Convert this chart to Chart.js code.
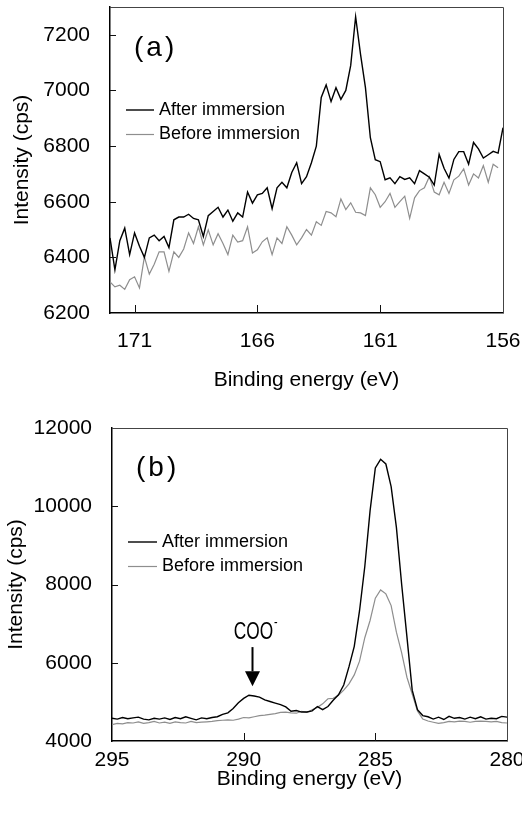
<!DOCTYPE html>
<html>
<head>
<meta charset="utf-8">
<script src="https://cdn.jsdelivr.net/npm/chart.js@4.4.1/dist/chart.umd.min.js"></script>
<style>
  html, body { margin: 0; padding: 0; background: #fff; }
  canvas { display: block; }
</style>
</head>
<body>
<canvas id="chart-a" width="522" height="400"></canvas>
<canvas id="chart-b" width="522" height="415"></canvas>
<script>
// ---- (a) S 2p region ----
const energyA = [172,171.8,171.6,171.4,171.2,171,170.8,170.6,170.4,170.2,170,169.8,169.6,169.4,169.2,169,168.8,168.6,168.4,168.2,
  168,167.8,167.6,167.4,167.2,167,166.8,166.6,166.4,166.2,166,165.8,165.6,165.4,165.2,165,164.8,164.6,164.4,164.2,
  164,163.8,163.6,163.4,163.2,163,162.8,162.6,162.4,162.2,162,161.8,161.6,161.4,161.2,161,160.8,160.6,160.4,160.2,
  160,159.8,159.6,159.4,159.2,159,158.8,158.6,158.4,158.2,158,157.8,157.6,157.4,157.2,157,156.8,156.6,156.4,156.2,156];
const afterA = [6470,6355,6460,6505,6410,6488,6440,6400,6470,6480,
  6460,6475,6435,6535,6545,6545,6555,6540,6535,6475,
  6550,6565,6580,6545,6570,6530,6560,6545,6635,6595,
  6625,6630,6650,6575,6650,6670,6650,6705,6740,6665,
  6690,6740,6800,6975,7020,6960,7010,6968,7000,7090,
  7265,7130,7010,6830,6751,6744,6679,6686,6665,6690,
  6680,6686,6665,6712,6700,6688,6660,6770,6720,6685,
  6752,6780,6780,6735,6813,6790,6757,6769,6781,6775,6866];
const beforeA = [6312,6294,6300,6285,6320,6330,6290,6402,6340,6375,
  6420,6420,6350,6420,6400,6430,6488,6450,6510,6445,
  6499,6445,6485,6450,6410,6480,6455,6460,6510,6416,
  6427,6456,6470,6410,6470,6450,6510,6480,6445,6470,
  6500,6480,6528,6515,6565,6560,6546,6610,6572,6596,
  6562,6560,6550,6650,6625,6580,6600,6630,6580,6600,
  6620,6540,6614,6640,6650,6690,6635,6625,6670,6630,
  6679,6692,6718,6660,6700,6685,6730,6670,6735,6722,null];
const xTicksA = [171, 166, 161, 156];
const yTicksA = [6200, 6400, 6600, 6800, 7000, 7200];

// ---- (b) C 1s region ----
const energyB = [295,294.8,294.6,294.4,294.2,294,293.8,293.6,293.4,293.2,293,292.8,292.6,292.4,292.2,292,291.8,291.6,291.4,291.2,
  291,290.8,290.6,290.4,290.2,290,289.8,289.6,289.4,289.2,289,288.8,288.6,288.4,288.2,288,287.8,287.6,287.4,287.2,
  287,286.8,286.6,286.4,286.2,286,285.8,285.6,285.4,285.2,285,284.8,284.6,284.4,284.2,284,283.8,283.6,283.4,283.2,
  283,282.8,282.6,282.4,282.2,282,281.8,281.6,281.4,281.2,281,280.8,280.6,280.4,280.2,280];
const afterB = [4580,4560,4600,4570,4590,4610,4560,4540,4580,4560,
  4590,4550,4600,4570,4620,4580,4540,4590,4570,4600,
  4620,4680,4720,4830,4980,5090,5170,5150,5120,5050,
  5010,4970,4930,4870,4760,4780,4740,4740,4770,4880,
  4800,4880,5041,5180,5430,5900,6420,7330,8460,9880,
  10980,11200,11080,10500,9460,8000,6660,5300,4800,4650,
  4620,4560,4610,4550,4630,4580,4600,4560,4610,4570,
  4620,4560,4580,4570,4630,4610];
const beforeB = [4420,4450,4440,4470,4460,4490,4450,4470,4500,4460,
  4480,4450,4490,4470,4460,4500,4470,4480,4490,4500,
  4520,4530,4540,4530,4560,4600,4590,4620,4650,4660,
  4680,4700,4730,4740,4720,4710,4760,4730,4800,4860,
  4950,5080,5090,5170,5300,5460,5690,6040,6640,7080,
  7650,7860,7760,7460,6780,6250,5630,5200,4770,4560,
  4510,4480,4450,4470,4500,4490,4510,4500,4480,4500,
  4510,4500,4490,4500,4470,4460];
const xTicksB = [295, 290, 285, 280];
const yTicksB = [4000, 6000, 8000, 10000, 12000];

const seriesLabels = ['After immersion', 'Before immersion'];
const seriesColors = ['#000000', '#8e8e8e'];

const FONT = "'Liberation Sans', Arial, sans-serif";

// frame, inward ticks, legend and panel labels
const decorPlugin = {
    id: 'decor',
    afterDraw(chart, args, o) {
        const { ctx, chartArea: a, scales: { x, y } } = chart;
        ctx.save();

        // top and right edges of the box
        ctx.strokeStyle = '#444';
        ctx.lineWidth = 1;
        ctx.beginPath();
        ctx.moveTo(a.left, a.top + 0.5);
        ctx.lineTo(a.right + 0.5, a.top + 0.5);
        ctx.lineTo(a.right + 0.5, a.bottom);
        ctx.stroke();

        // inward tick marks
        ctx.strokeStyle = '#111';
        ctx.beginPath();
        x.ticks.forEach(t => {
            if (t.value === x.min || t.value === x.max) return;
            const px = Math.round(x.getPixelForValue(t.value)) + 0.5;
            ctx.moveTo(px, a.bottom);
            ctx.lineTo(px, a.bottom - 8);
        });
        y.ticks.forEach(t => {
            if (t.value === y.min || t.value === y.max) return;
            const py = Math.round(y.getPixelForValue(t.value)) + 0.5;
            ctx.moveTo(a.left, py);
            ctx.lineTo(a.left + 6, py);
        });
        ctx.stroke();

        // legend
        ctx.font = '18px ' + FONT;
        ctx.textBaseline = 'middle';
        ctx.textAlign = 'left';
        chart.data.datasets.forEach((ds, i) => {
            const ly = a.top + o.legendTop + i * 24.5;
            ctx.strokeStyle = ds.borderColor;
            ctx.lineWidth = ds.borderWidth;
            ctx.beginPath();
            ctx.moveTo(a.left + 16, ly);
            ctx.lineTo(a.left + o.legendLine, ly);
            ctx.stroke();
            ctx.fillStyle = '#000';
            ctx.fillText(ds.label, a.left + o.legendLine + 5, ly);
        });

        // panel label
        ctx.font = '28px ' + FONT;
        ctx.letterSpacing = '3px';
        ctx.fillStyle = '#000';
        ctx.fillText(o.panel, a.left + 24, a.top + o.panelTop);
        ctx.letterSpacing = '0px';

        // COO- arrow
        if (o.arrow) {
            const ar = o.arrow;
            const ax = Math.round(x.getPixelForValue(ar.x)) + 0.5;
            const yTop = y.getPixelForValue(ar.top);
            const yBase = y.getPixelForValue(ar.base);
            const yTip = y.getPixelForValue(ar.tip);
            ctx.strokeStyle = '#000';
            ctx.lineWidth = 2;
            ctx.beginPath();
            ctx.moveTo(ax, yTop);
            ctx.lineTo(ax, yBase);
            ctx.stroke();
            ctx.beginPath();
            ctx.moveTo(ax - 7.5, yBase);
            ctx.lineTo(ax + 7.5, yBase);
            ctx.lineTo(ax, yTip);
            ctx.closePath();
            ctx.fill();

            // condensed lettering, squeezed horizontally
            const yText = y.getPixelForValue(ar.text);
            ctx.save();
            ctx.translate(ax + 1, yText);
            ctx.scale(0.72, 1);
            ctx.font = '24px ' + FONT;
            ctx.textAlign = 'center';
            ctx.textBaseline = 'alphabetic';
            ctx.fillText(ar.label, 0, 0);
            const w = ctx.measureText(ar.label).width;
            ctx.font = '15px ' + FONT;
            ctx.textAlign = 'left';
            ctx.fillText('-', w / 2 + 1, -12);
            ctx.restore();
        }
        ctx.restore();
    }
};

function buildChart(id, cfg) {
    const datasets = [cfg.after, cfg.before].map((vals, i) => ({
        label: seriesLabels[i],
        data: cfg.energy.map((e, k) => ({ x: e, y: vals[k] })),
        borderColor: seriesColors[i],
        borderWidth: i === 0 ? 1.4 : 1.2,
        pointRadius: 0,
        tension: 0,
        fill: false
    }));

    return new Chart(document.getElementById(id), {
        type: 'line',
        data: { datasets: datasets },
        options: {
            responsive: false,
            animation: false,
            events: [],
            layout: { padding: { top: cfg.area.top, right: 522 - cfg.area.right, left: 0, bottom: 0 } },
            scales: {
                x: {
                    type: 'linear',
                    reverse: true,
                    min: cfg.xMin,
                    max: cfg.xMax,
                    afterBuildTicks: s => { s.ticks = cfg.xTicks.map(v => ({ value: v })); },
                    afterFit: s => { s.height = cfg.height - cfg.area.bottom; s.paddingLeft = 0; s.paddingRight = 0; },
                    grid: { display: false, drawTicks: false },
                    border: { color: '#000', width: 1.5 },
                    ticks: {
                        color: '#000',
                        padding: cfg.xTickPad,
                        maxRotation: 0,
                        autoSkip: false,
                        font: { family: FONT, size: 21 },
                        callback: v => String(v)
                    },
                    title: {
                        display: true,
                        text: 'Binding energy (eV)',
                        color: '#000',
                        padding: { top: 0, bottom: cfg.xTitlePad },
                        font: { family: FONT, size: 21 }
                    }
                },
                y: {
                    type: 'linear',
                    min: cfg.yMin,
                    max: cfg.yMax,
                    afterBuildTicks: s => { s.ticks = cfg.yTicks.map(v => ({ value: v })); },
                    afterFit: s => { s.width = cfg.area.left; s.paddingTop = 0; s.paddingBottom = 0; },
                    grid: { display: false, drawTicks: false },
                    border: { color: '#000', width: 1.5 },
                    ticks: {
                        color: '#000',
                        padding: 20,
                        font: { family: FONT, size: 21 },
                        callback: v => String(v)
                    },
                    title: {
                        display: true,
                        text: 'Intensity (cps)',
                        color: '#000',
                        padding: { top: cfg.yTitlePad, bottom: 0 },
                        font: { family: FONT, size: 21 }
                    }
                }
            },
            plugins: {
                legend: { display: false },
                tooltip: { enabled: false },
                decor: cfg.decor
            }
        },
        plugins: [decorPlugin]
    });
}

buildChart('chart-a', {
    energy: energyA, after: afterA, before: beforeA,
    xMin: 156, xMax: 172, yMin: 6200, yMax: 7300,
    xTicks: xTicksA, yTicks: yTicksA,
    height: 400,
    area: { left: 110, right: 503, top: 7, bottom: 313 },
    xTickPad: 16, xTitlePad: 7, yTitlePad: 10,
    decor: { panel: '(a)', panelTop: 41, legendTop: 103, legendLine: 44 }
});

buildChart('chart-b', {
    energy: energyB, after: afterB, before: beforeB,
    xMin: 280, xMax: 295, yMin: 4000, yMax: 12000,
    xTicks: xTicksB, yTicks: yTicksB,
    height: 415,
    area: { left: 112, right: 507, top: 28, bottom: 341 },
    xTickPad: 7, xTitlePad: 23, yTitlePad: 3.5,
    decor: {
        panel: '(b)', panelTop: 40, legendTop: 114, legendLine: 45,
        arrow: { label: 'COO', x: 289.7, text: 6600, top: 6400, base: 5780, tip: 5400 }
    }
});
</script>
</body>
</html>
